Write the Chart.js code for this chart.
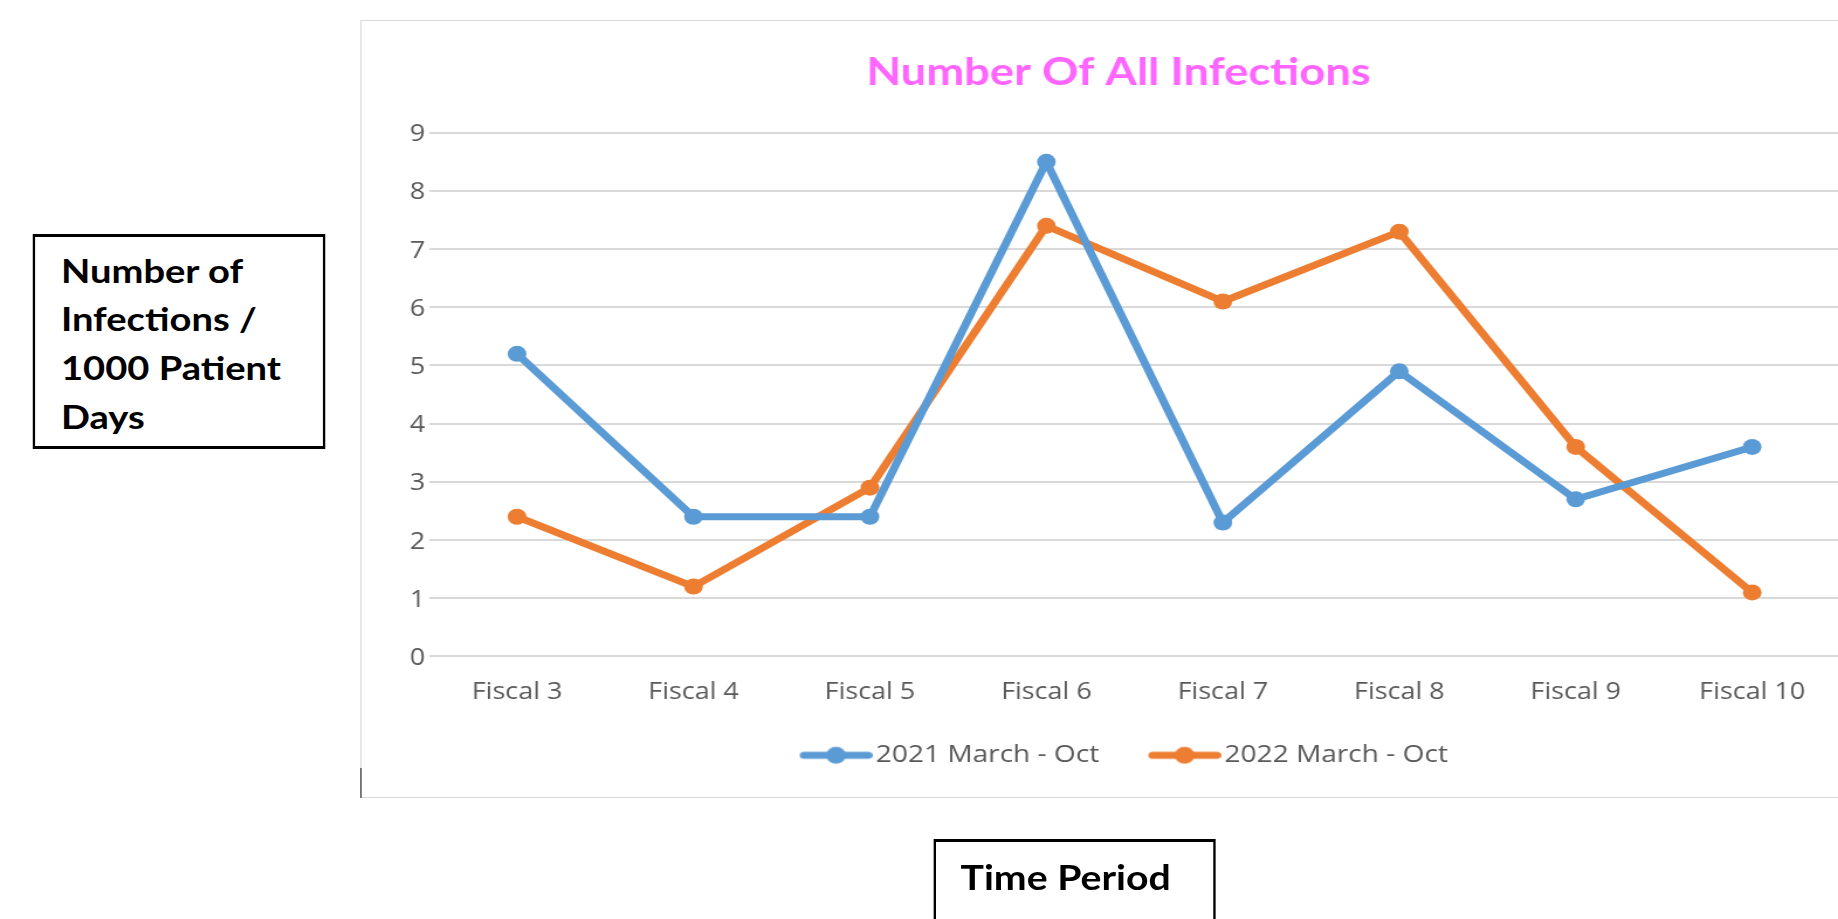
<!DOCTYPE html>
<html>
<head>
<meta charset="utf-8">
<script src="https://cdn.jsdelivr.net/npm/chart.js@4.4.1/dist/chart.umd.min.js"></script>
<style>
html,body{margin:0;padding:0;overflow:hidden;background:#fff;width:1838px;height:919px;}
#wrap{position:absolute;left:0;top:0;width:1571px;height:919px;overflow:hidden;transform:scaleX(1.17);transform-origin:0 0;}
#frame{position:absolute;left:308px;top:20px;width:1296px;height:778px;border:1px solid #D9D9D9;box-sizing:border-box;}
#c{position:absolute;left:308px;top:20px;width:1296px;height:778px;}
#tick{position:absolute;left:308px;top:768px;width:1px;height:30px;background:#333;}
.box{position:absolute;border-style:solid;border-color:#000;border-width:3px 2px;box-sizing:border-box;font-family:Lato,"Open Sans",sans-serif;font-weight:700;color:#000;background:#fff;}
#ybox{left:27.6px;top:234.3px;width:250px;height:215px;}
#ytext{position:absolute;left:22.5px;top:9.6px;font-size:32.6px;line-height:48.6px;white-space:nowrap;}
#xbox{left:797.5px;top:839px;width:241.5px;height:120px;}
#xtext{position:absolute;left:21.5px;top:14.8px;font-size:33.5px;line-height:40px;white-space:nowrap;}
</style>
</head>
<body>
<div id="wrap">
  <div id="frame"></div>
  <canvas id="c" width="1296" height="778"></canvas>
  <div id="tick"></div>
  <div class="box" id="ybox"><div id="ytext">Number of<br>Infections /<br>1000 Patient<br>Days</div></div>
  <div class="box" id="xbox"><div id="xtext">Time Period</div></div>
</div>
<script>
const categories = ['Fiscal 3','Fiscal 4','Fiscal 5','Fiscal 6','Fiscal 7','Fiscal 8','Fiscal 9','Fiscal 10'];
const series2021 = [5.2, 2.4, 2.4, 8.5, 2.3, 4.9, 2.7, 3.6];
const series2022 = [2.4, 1.2, 2.9, 7.4, 6.1, 7.3, 3.6, 1.1];
const seriesNames = ['2021 March - Oct', '2022 March - Oct'];
const yTickLabels = ['0','1','2','3','4','5','6','7','8','9'];
const chartTitle = 'Number Of All Infections';

const blue = '#5B9BD5';
const orange = '#ED7D31';
const gray = '#595959';

function legendIcon(color){
  const c = document.createElement('canvas');
  c.width = 80; c.height = 20;
  const g = c.getContext('2d');
  g.strokeStyle = color; g.lineWidth = 7; g.lineCap = 'round';
  g.beginPath(); g.moveTo(21.5,10); g.lineTo(76.5,10); g.stroke();
  g.fillStyle = color;
  g.beginPath(); g.arc(49,10,8.5,0,Math.PI*2); g.fill();
  return c;
}
const icons = [legendIcon(blue), legendIcon(orange)];

function ds(label, data, color){
  return {
    label, data,
    borderColor: color, backgroundColor: color,
    borderWidth: 7,
    borderJoinStyle: 'round', borderCapStyle: 'round',
    pointRadius: 8, pointBorderWidth: 0,
    pointBackgroundColor: color, pointBorderColor: color,
    tension: 0, fill: false
  };
}

const tickFont = {family: "'Open Sans', sans-serif", size: 23};

new Chart(document.getElementById('c'), {
  type: 'line',
  data: {
    labels: categories,
    datasets: [ds(seriesNames[0], series2021, blue), ds(seriesNames[1], series2022, orange)]
  },
  options: {
    responsive: false,
    devicePixelRatio: 1,
    animation: false,
    layout: {padding: {left: 0, right: 0, top: 0, bottom: 20.7}},
    plugins: {
      title: {
        display: true,
        text: chartTitle,
        color: '#FF66FF',
        font: {family: "Lato, 'Open Sans', sans-serif", size: 38.7, weight: 'bold', lineHeight: 1.2},
        padding: {top: 29.1, bottom: 37.2}
      },
      legend: {
        position: 'bottom',
        labels: {
          color: gray,
          font: {family: "'Open Sans', sans-serif", size: 24},
          usePointStyle: true,
          pointStyleWidth: 62,
          padding: 33,
          generateLabels: (chart) => {
            const items = Chart.defaults.plugins.legend.labels.generateLabels(chart);
            items.forEach((it, i) => { it.pointStyle = icons[i]; });
            return items;
          }
        }
      },
      tooltip: {enabled: false}
    },
    scales: {
      x: {
        offset: true,
        grid: {display: false, drawTicks: false, tickLength: 0},
        border: {display: false},
        ticks: {color: gray, font: tickFont, padding: 22.5, maxRotation: 0, autoSkip: false},
        afterFit: (s) => { s.height = 53.9; }
      },
      y: {
        min: 0, max: 9,
        grid: {color: '#D9D9D9', lineWidth: 2, drawTicks: false, tickLength: 0},
        border: {display: false},
        ticks: {stepSize: 1, color: gray, font: tickFont, padding: 3, labelOffset: 2,
          callback: (v) => yTickLabels[v] !== undefined ? yTickLabels[v] : ''},
        afterFit: (s) => { s.width = 58.5; }
      },
      y2: {
        position: 'right',
        display: true,
        grid: {display: false, drawTicks: false},
        border: {display: false},
        ticks: {display: false},
        afterFit: (s) => { s.width = 31; }
      }
    }
  }
});
</script>
</body>
</html>
